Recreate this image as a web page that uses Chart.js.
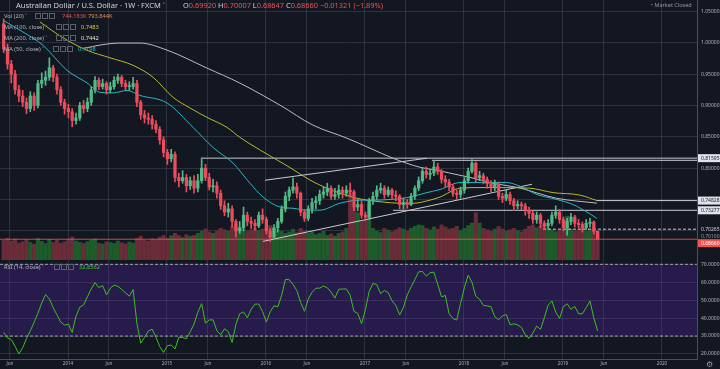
<!DOCTYPE html>
<html>
<head>
<meta charset="utf-8">
<script src="https://cdn.jsdelivr.net/npm/chart.js@4.4.1/dist/chart.umd.min.js"></script>
<style>
  body { margin: 0; background: #131722; }
  #wrap { position: relative; width: 720px; height: 369px; overflow: hidden; background: #131722; font-family: "Noto Sans", "DejaVu Sans", sans-serif; }
  canvas { position: absolute; left: 0; }
  .t { position: absolute; white-space: nowrap; line-height: 8px; color: #b2b5be; font-size: 5.7px; }
  .ic { display: inline-block; width: 4px; height: 4px; border: 1px solid #5d606b; margin-right: 1px; vertical-align: middle; }
  .r { color: #ef5350; }
  .w { color: #d1d4dc; }
</style>
</head>
<body>
<div id="wrap">
  <canvas id="priceChart" width="720" height="260" style="top:0"></canvas>
  <canvas id="rsiChart" width="720" height="109" style="top:260px"></canvas>

  <div class="t w" style="left:16px;top:1px;font-size:7.5px">Australian Dollar / U.S. Dollar · 1W · FXCM ˅</div>
  <div class="t" style="left:183px;top:1px;font-size:7.4px"><span class="w">O</span><span class="r">0.69920</span> <span class="w">H</span><span class="r">0.70007</span> <span class="w">L</span><span class="r">0.68647</span> <span class="w">C</span><span class="r">0.68660</span> <span class="r">−0.01321 (−1.89%)</span></div>
  <div class="t" style="left:651px;top:1px;font-size:5.5px;color:#9598a1">• Market Closed</div>

  <div class="t" style="left:4px;top:12px">Vol (20) ˅</div>
  <div class="t" style="left:35px;top:12px"><span class="ic"></span><span class="ic"></span><span class="ic"></span></div>
  <div class="t" style="left:62px;top:12px;color:#ef5350">744.183K</div>
  <div class="t" style="left:88px;top:12px;color:#f0894a">793.844K</div>

  <div class="t" style="left:4px;top:23px">MA (100, close) ˅</div>
  <div class="t" style="left:56px;top:23px"><span class="ic"></span><span class="ic"></span><span class="ic"></span></div>
  <div class="t" style="left:81px;top:23px;color:#d4d42a">0.7483</div>

  <div class="t" style="left:4px;top:34px">MA (200, close) ˅</div>
  <div class="t" style="left:56px;top:34px"><span class="ic"></span><span class="ic"></span><span class="ic"></span></div>
  <div class="t" style="left:81px;top:34px;color:#e6e6c8">0.7442</div>

  <div class="t" style="left:4px;top:45px">MA (50, close) ˅</div>
  <div class="t" style="left:53px;top:45px"><span class="ic"></span><span class="ic"></span><span class="ic"></span></div>
  <div class="t" style="left:78px;top:45px;color:#26c6da">0.7198</div>

  <div class="t" style="left:4px;top:263px">RSI (14, close) ˅</div>
  <div class="t" style="left:54px;top:263px"><span class="ic"></span><span class="ic"></span><span class="ic"></span></div>
  <div class="t" style="left:79px;top:263px;color:#3cd11d">32.8562</div>

  <div class="t" style="left:706px;top:360px;font-size:8px;color:#9598a1">⚙</div>
</div>
<script>
// two-week candles, AUD/USD, first one in May 2013
const firstYear = 2013.35;
const step = 1 / 26;
const firstOpen = 1.030;

const closes = [
  0.990,0.966,0.950,0.925,0.915,0.905,0.895,0.915,0.900,0.935,
  0.940,0.945,0.960,0.945,0.925,0.905,0.895,0.890,0.876,0.880,
  0.900,0.895,0.905,0.925,0.940,0.930,0.935,0.925,0.930,0.940,
  0.945,0.935,0.930,0.930,0.935,0.905,0.885,0.880,0.878,0.870,
  0.862,0.845,0.825,0.815,0.822,0.785,0.780,0.785,0.772,0.780,
  0.768,0.780,0.800,0.785,0.770,0.772,0.760,0.740,0.730,0.735,
  0.715,0.700,0.705,0.725,0.715,0.712,0.708,0.725,0.718,0.700,
  0.690,0.705,0.715,0.735,0.755,0.765,0.770,0.760,0.730,0.720,
  0.735,0.745,0.748,0.758,0.762,0.768,0.755,0.758,0.765,0.760,
  0.765,0.762,0.738,0.742,0.725,0.722,0.748,0.755,0.765,0.768,
  0.758,0.765,0.757,0.755,0.742,0.745,0.742,0.755,0.768,0.780,
  0.795,0.790,0.792,0.802,0.795,0.782,0.778,0.770,0.760,0.758,
  0.765,0.780,0.795,0.808,0.785,0.788,0.782,0.775,0.770,0.775,
  0.755,0.752,0.758,0.748,0.740,0.742,0.740,0.733,0.728,0.718,
  0.725,0.712,0.708,0.712,0.725,0.730,0.718,0.705,0.715,0.722,
  0.712,0.710,0.705,0.712,0.714,0.6992,0.6866
];
const highs = [
  1.038,0.998,0.972,0.956,0.932,0.924,0.912,0.922,0.920,0.940,
  0.952,0.955,0.976,0.964,0.950,0.930,0.910,0.902,0.895,0.888,
  0.905,0.908,0.912,0.930,0.946,0.944,0.942,0.938,0.937,0.946,
  0.950,0.948,0.940,0.938,0.945,0.940,0.908,0.892,0.888,0.884,
  0.876,0.866,0.850,0.830,0.830,0.826,0.792,0.796,0.790,0.786,
  0.788,0.790,0.8165,0.806,0.792,0.782,0.778,0.765,0.748,0.744,
  0.740,0.718,0.715,0.738,0.730,0.722,0.718,0.730,0.735,0.722,
  0.704,0.710,0.720,0.740,0.762,0.770,0.784,0.776,0.762,0.734,
  0.740,0.752,0.755,0.765,0.770,0.776,0.772,0.768,0.773,0.770,
  0.772,0.776,0.765,0.750,0.748,0.730,0.752,0.762,0.772,0.776,
  0.772,0.770,0.768,0.764,0.758,0.752,0.750,0.760,0.772,0.786,
  0.800,0.802,0.798,0.8125,0.808,0.798,0.788,0.782,0.774,0.765,
  0.770,0.785,0.800,0.8136,0.810,0.795,0.792,0.786,0.780,0.781,
  0.778,0.760,0.765,0.762,0.752,0.748,0.746,0.744,0.738,0.732,
  0.730,0.728,0.716,0.718,0.730,0.740,0.734,0.722,0.720,0.728,
  0.725,0.718,0.714,0.718,0.720,0.716,0.70007
];
const lows = [
  0.984,0.958,0.936,0.918,0.906,0.898,0.887,0.890,0.892,0.896,
  0.928,0.932,0.940,0.938,0.918,0.900,0.886,0.880,0.866,0.870,
  0.876,0.888,0.890,0.900,0.920,0.925,0.926,0.918,0.920,0.926,
  0.935,0.930,0.925,0.924,0.926,0.898,0.878,0.872,0.870,0.862,
  0.856,0.838,0.818,0.806,0.810,0.778,0.770,0.776,0.762,0.766,
  0.760,0.762,0.776,0.780,0.765,0.762,0.752,0.734,0.724,0.722,
  0.706,0.690,0.696,0.700,0.708,0.704,0.701,0.705,0.712,0.695,
  0.683,0.686,0.698,0.712,0.730,0.748,0.760,0.752,0.724,0.715,
  0.716,0.728,0.735,0.742,0.752,0.756,0.750,0.750,0.752,0.752,
  0.755,0.755,0.732,0.732,0.720,0.716,0.718,0.742,0.750,0.760,
  0.752,0.755,0.750,0.748,0.735,0.735,0.736,0.740,0.750,0.764,
  0.776,0.784,0.782,0.788,0.790,0.776,0.770,0.764,0.755,0.750,
  0.752,0.760,0.776,0.792,0.778,0.780,0.775,0.768,0.762,0.764,
  0.750,0.745,0.748,0.742,0.732,0.735,0.734,0.725,0.720,0.712,
  0.712,0.705,0.702,0.703,0.708,0.720,0.712,0.700,0.693,0.710,
  0.706,0.704,0.698,0.702,0.706,0.695,0.68647
];
// volume in thousands
const volumes = [
  560,620,540,600,480,520,580,500,450,610,
  530,470,590,500,560,480,520,600,650,540,
  500,470,520,560,600,480,450,520,500,470,
  540,490,460,510,480,620,680,560,540,600,
  580,650,700,620,690,760,700,640,720,680,
  700,760,820,880,800,760,840,900,860,820,
  950,1000,900,880,820,860,900,840,880,920,
  980,900,860,820,760,800,880,780,900,820,
  760,800,720,760,820,700,740,680,760,800,
  900,1900,1500,1350,1100,1150,1600,900,820,780,
  900,850,800,860,920,880,820,900,960,1000,
  980,900,860,940,880,1000,940,880,900,960,
  840,900,980,1050,1350,1050,900,860,820,880,
  950,880,820,860,900,840,800,880,960,1000,
  920,980,1000,900,860,800,840,900,1250,880,
  820,860,900,820,880,920,800
];
const rsi = [
  32,29,28,24.3,20.1,23.5,28.6,32.9,37.7,42.7,
  48.4,53.1,50.7,45.9,41.8,37.8,36.1,36.6,32,41.1,
  46.1,47.3,51.9,56.3,59.8,57,58.1,53,56.6,58.4,
  57.7,56,54.1,52.2,55.9,37,26,29.3,32.8,33.8,
  29.4,24.1,20.9,24.6,25,22.8,29.2,29.2,28.5,32.4,
  36.7,43.3,48.1,37.2,39,39,33,30.7,34,32.5,
  26.4,36.6,42.4,43.5,40.2,44.9,47.8,47.8,43.6,37.8,
  43.5,46.9,46.3,52.6,61.6,61.4,58.8,55.4,48.7,43.8,
  50.6,54.4,56.7,56.7,57.9,56.9,54.5,51.1,56.1,56.2,
  56.3,52.8,43.8,42.6,36.9,44.6,54.9,59.3,58.7,53.6,
  55.4,54.2,49.7,47.1,41.7,46,52.9,57.4,61.5,65.8,
  66,63.4,65.3,65.6,58.9,51.9,52.6,42.4,39.8,38.9,
  48.2,56.9,63.9,60,52.2,50.5,47.1,46.8,46.3,40.7,
  39.2,41.2,42,36.3,36.8,36.2,34.8,30.6,28.7,31.7,
  35.6,33.7,40.2,47.2,49.6,43.4,39.8,46.4,48,44.9,
  46.5,42.4,42.4,45.9,49.5,40.1,32.9
];

// moving averages (date as decimal year, price)
const ma50Dates = [2013.343,2013.515,2013.747,2013.990,2014.192,2014.323,2014.455,2014.596,2014.727,2015.0,
  2015.263,2015.465,2015.667,2015.838,2015.970,2016.141,2016.273,2016.414,2016.545,2016.747,
  2016.949,2017.081,2017.253,2017.424,2017.626,2017.758,2017.960,2018.232,2018.434,2018.566,
  2018.737,2018.939,2019.101,2019.242,2019.343];
const ma50Values = [1.036,1.020,0.996,0.956,0.936,0.921,0.920,0.924,0.916,0.904,
  0.865,0.833,0.808,0.776,0.754,0.738,0.736,0.733,0.733,0.744,
  0.749,0.749,0.750,0.753,0.761,0.766,0.777,0.777,0.777,0.771,
  0.758,0.750,0.742,0.730,0.7198];
const ma100Dates = [2013.717,2013.949,2014.192,2014.424,2014.657,2014.859,2015.061,2015.232,2015.404,2015.606,
  2015.737,2015.939,2016.242,2016.444,2016.616,2016.747,2016.919,2017.020,2017.182,2017.354,
  2017.485,2017.657,2017.758,2017.960,2018.162,2018.364,2018.667,2018.899,2019.172,2019.343];
const ma100Values = [1.033,1.008,0.988,0.976,0.964,0.945,0.913,0.896,0.881,0.865,
  0.849,0.829,0.801,0.781,0.768,0.760,0.752,0.749,0.746,0.744,
  0.744,0.749,0.754,0.768,0.769,0.769,0.768,0.761,0.757,0.7483];
const ma200Dates = [2014.172,2014.323,2014.525,2014.727,2015.0,2015.404,2015.737,2016.141,2016.475,2016.818,
  2017.051,2017.283,2017.556,2017.727,2017.960,2018.061,2018.293,2018.535,2018.939,2019.343];
const ma200Values = [0.9915,0.9963,0.9995,0.9995,0.9883,0.9596,0.9356,0.9005,0.8686,0.8478,
  0.8318,0.8158,0.8014,0.7966,0.7886,0.7854,0.7758,0.7694,0.7519,0.7442];

// drawings: wedge lines and horizontal levels
const wedgeUpper = [[2015.990, 0.7807], [2017.626, 0.8158]];
const wedgeLower = [[2015.970, 0.6832], [2018.687, 0.7743]];
const levelValues = [0.81595, 0.8125, 0.74828, 0.73277, 0.70265, 0.6866];
const levelStarts = [2015.354, 2017.677, 2019.343, 2017.283, 2018.798, 2013.313];

const tagValues = [0.81595, 0.74828, 0.73277, 0.70265, 0.70100, 0.68660];
const priceTicks = [0.70, 0.75, 0.80, 0.85, 0.90, 0.95, 1.00, 1.05];
const rsiTicks = [20, 30, 40, 50, 60, 70];
const xTickValues = [2013.414, 2014, 2014.414, 2015, 2015.414, 2016, 2016.414, 2017, 2017.414, 2018, 2018.414, 2019, 2019.414, 2020];
const xTickLabels = ['Jun', '2014', 'Jun', '2015', 'Jun', '2016', 'Jun', '2017', 'Jun', '2018', 'Jun', '2019', 'Jun', '2020'];

// --- styling ---
const X_MIN = 2013.313, X_MAX = 2020.354;
const UP = '#53b987', DOWN = '#eb4d5c';
const VOL_UP = '#1e5b2a', VOL_DOWN = '#6a2c38';
const GRID = 'rgba(150,155,170,0.2)';
const AXIS = '#4c505b';
const LINE = '#c8cbd3';
const tagStyles = [
  { bg: '#e0e3eb', fg: '#131722' },
  { bg: '#e0e3eb', fg: '#131722' },
  { bg: '#e0e3eb', fg: '#131722' },
  { bg: null, fg: '#d1d4dc' },
  { bg: null, fg: '#9598a1' },
  { bg: '#ef5350', fg: '#ffffff' }
];
const levelColors = [LINE, LINE, LINE, LINE, LINE, 'rgba(239,83,80,0.85)'];
const levelDash = [[], [], [], [], [3, 2], []];

Chart.defaults.font.family = '"Noto Sans", "DejaVu Sans", sans-serif';

const dates = closes.map((c, i) => firstYear + i * step);
const opens = closes.map((c, i) => i === 0 ? firstOpen : closes[i - 1]);
const isUp = closes.map((c, i) => c >= opens[i]);

function points(xs, ys) {
  return xs.map((x, i) => ({ x: x, y: ys[i] }));
}
function lineSet(data, color, order, dash) {
  return { type: 'line', data: data, borderColor: color, borderWidth: 1, borderDash: dash || [],
    pointRadius: 0, fill: false, order: order, yAxisID: 'y' };
}

const priceSets = [
  { type: 'bar', data: dates.map((d, i) => ({ x: d, y: [opens[i], closes[i]] })),
    backgroundColor: isUp.map(u => u ? UP : DOWN), barThickness: 2.6, minBarLength: 1,
    grouped: false, order: 0, yAxisID: 'y' },
  { type: 'bar', data: dates.map((d, i) => ({ x: d, y: [lows[i], highs[i]] })),
    backgroundColor: isUp.map(u => u ? UP : DOWN), barThickness: 1,
    grouped: false, order: 1, yAxisID: 'y' },
  Object.assign(lineSet(points(ma50Dates, ma50Values), '#2ab7c4', 2), { cubicInterpolationMode: 'monotone' }),
  Object.assign(lineSet(points(ma100Dates, ma100Values), '#b9b92e', 3), { cubicInterpolationMode: 'monotone' }),
  Object.assign(lineSet(points(ma200Dates, ma200Values), '#bdbdbd', 4), { cubicInterpolationMode: 'monotone' }),
  lineSet(wedgeUpper.map(p => ({ x: p[0], y: p[1] })), LINE, 5),
  lineSet(wedgeLower.map(p => ({ x: p[0], y: p[1] })), LINE, 5),
  { type: 'bar', data: dates.map((d, i) => ({ x: d, y: volumes[i] })),
    backgroundColor: isUp.map(u => u ? VOL_UP : VOL_DOWN), barThickness: 3.4,
    grouped: false, order: 9, yAxisID: 'yVol' }
];
levelValues.forEach((v, i) => {
  priceSets.push(lineSet([{ x: levelStarts[i], y: v }, { x: X_MAX, y: v }], levelColors[i], 5, levelDash[i]));
});

const priceTags = {
  id: 'priceTags',
  afterDraw(chart) {
    const ctx = chart.ctx;
    const scale = chart.scales.y;
    const left = chart.chartArea.right + 1;
    let last = -100;
    ctx.save();
    ctx.font = '5px "Noto Sans"';
    ctx.textBaseline = 'middle';
    tagValues.forEach((v, i) => {
      let py = scale.getPixelForValue(v);
      if (py - last < 7) py = last + 7;
      last = py;
      const st = tagStyles[i];
      if (st.bg) {
        ctx.fillStyle = st.bg;
        ctx.fillRect(left, py - 4, 720 - left, 8);
      }
      ctx.fillStyle = st.fg;
      ctx.fillText(v.toFixed(5), left + 3, py + 0.5);
    });
    ctx.restore();
  }
};

new Chart(document.getElementById('priceChart'), {
  type: 'bar',
  data: { datasets: priceSets },
  options: {
    responsive: false, animation: false, devicePixelRatio: 1,
    layout: { padding: 0 },
    plugins: { legend: { display: false }, tooltip: { enabled: false } },
    scales: {
      x: {
        type: 'linear', min: X_MIN, max: X_MAX, offset: false,
        afterBuildTicks: s => { s.ticks = xTickValues.map(v => ({ value: v })); },
        afterFit: s => { s.height = 0; s.paddingLeft = 0; s.paddingRight = 0; },
        ticks: { display: false },
        grid: { color: GRID, drawTicks: false, offset: false },
        border: { display: true, color: '#363a45' }
      },
      y: {
        position: 'right', min: 0.6535, max: 1.0682,
        afterBuildTicks: s => { s.ticks = priceTicks.map(v => ({ value: v })); },
        afterFit: s => { s.width = 23; s.paddingTop = 0; s.paddingBottom = 0; },
        ticks: { color: '#b2b5be', font: { size: 5 }, padding: 4,
          callback: v => v >= 0.78 ? v.toFixed(5) : '' },
        grid: { color: GRID, drawTicks: false },
        border: { color: AXIS }
      },
      yVol: { display: false, min: 0, max: 7400 }
    }
  },
  plugins: [priceTags]
});

new Chart(document.getElementById('rsiChart'), {
  type: 'line',
  data: {
    datasets: [
      { data: points(dates, rsi), borderColor: '#3cc21e', borderWidth: 1, pointRadius: 0, fill: false, order: 0 },
      { data: [{ x: X_MIN, y: 70 }, { x: X_MAX, y: 70 }], borderColor: 'rgba(200,202,210,0.75)',
        borderDash: [3, 2], borderWidth: 1, pointRadius: 0, fill: false, order: 1 },
      { data: [{ x: X_MIN, y: 30 }, { x: X_MAX, y: 30 }], borderColor: 'rgba(200,202,210,0.75)',
        borderDash: [3, 2], borderWidth: 1, pointRadius: 0, fill: '-1',
        backgroundColor: 'rgba(90,40,180,0.28)', order: 2 }
    ]
  },
  options: {
    responsive: false, animation: false, devicePixelRatio: 1,
    layout: { padding: 0 },
    plugins: { legend: { display: false }, tooltip: { enabled: false } },
    scales: {
      x: {
        type: 'linear', min: X_MIN, max: X_MAX,
        afterBuildTicks: s => { s.ticks = xTickValues.map(v => ({ value: v })); },
        afterFit: s => { s.height = 10; s.paddingLeft = 0; s.paddingRight = 0; },
        ticks: { autoSkip: false, maxRotation: 0, color: '#b2b5be', font: { size: 4.5 }, padding: 2,
          callback: (v, i) => xTickLabels[i] },
        grid: { color: GRID, drawTicks: false },
        border: { color: AXIS }
      },
      y: {
        position: 'right', min: 17.2, max: 72.4,
        afterBuildTicks: s => { s.ticks = rsiTicks.map(v => ({ value: v })); },
        afterFit: s => { s.width = 23; s.paddingTop = 0; s.paddingBottom = 0; },
        ticks: { color: '#b2b5be', font: { size: 5 }, padding: 4, callback: v => v.toFixed(4) },
        grid: { color: GRID, drawTicks: false },
        border: { color: AXIS }
      }
    }
  }
});
</script>
</body>
</html>
